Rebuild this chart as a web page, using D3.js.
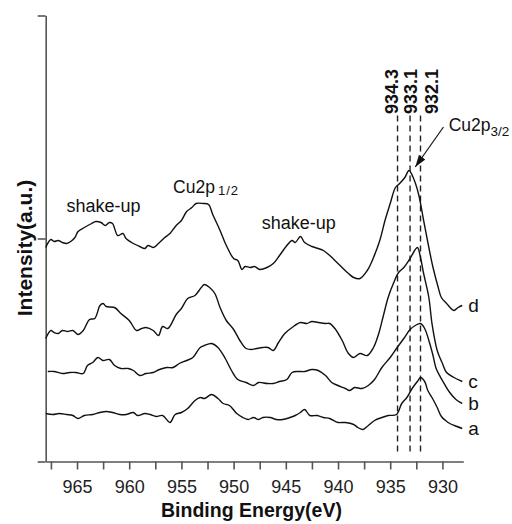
<!DOCTYPE html>
<html>
<head>
<meta charset="utf-8">
<script src="https://cdn.jsdelivr.net/npm/d3@7"></script>
<style>
  body { margin: 0; background: #fff; }
  svg { display: block; font-family: "Liberation Sans", Arial, Helvetica, sans-serif; }
</style>
</head>
<body>
<svg id="chart" width="512" height="524"></svg>
<script>
// Cu2p XPS spectra, [binding energy (eV), intensity (a.u.)]
const spectrumA = [[968.0,48],[967.3,47],[966.7,48],[966.0,47],[965.4,46],[964.9,43],[964.3,46],[963.5,47],[962.8,49],[962.2,50],[961.6,49],[960.9,47],[960.3,47],[959.6,49],[959.2,46],[958.5,48],[958.0,47],[957.4,45],[956.8,46],[956.1,39],[955.6,47],[955.0,49],[954.4,53],[953.7,61],[953.2,64],[952.8,63],[952.1,67],[951.5,63],[951.0,58],[950.4,56],[949.7,48],[949.1,44],[948.6,42],[948.1,44],[947.6,42],[947.2,44],[946.5,44],[945.9,42],[945.3,42],[944.6,44],[944.1,46],[943.6,49],[943.2,52],[942.7,46],[942.0,46],[941.4,44],[940.8,43],[940.0,39],[939.3,39],[938.5,37],[938.1,34],[937.6,32],[937.1,36],[936.5,41],[935.8,44],[935.2,46],[934.4,47],[933.9,58],[933.4,64],[932.9,73],[932.4,80],[932.1,84],[931.7,80],[931.4,71],[931.0,64],[930.5,54],[930.1,45],[929.7,41],[929.3,38],[928.6,35],[928.1,33]];

const spectrumB = [[967.8,90],[967.2,90],[966.4,88],[965.7,89],[965.1,89],[964.4,88],[964.0,96],[963.5,99],[963.0,104],[962.5,101],[961.9,102],[961.4,96],[960.8,93],[960.1,93],[959.6,91],[959.0,86],[958.4,88],[957.7,89],[957.1,92],[956.4,94],[955.8,94],[955.2,98],[954.5,101],[953.9,104],[953.2,114],[952.8,116],[952.1,118],[951.5,114],[950.8,103],[950.2,91],[949.6,82],[948.8,79],[948.1,76],[947.6,79],[946.8,78],[946.2,78],[945.6,80],[944.9,82],[944.4,89],[943.8,90],[943.2,90],[942.5,92],[941.9,91],[941.2,86],[940.6,79],[940.0,76],[939.3,73],[938.9,71],[938.4,74],[937.7,73],[937.1,76],[936.5,82],[935.8,94],[935.0,104],[934.4,113],[933.7,123],[933.1,132],[932.6,136],[932.1,138],[931.7,133],[931.3,121],[930.9,106],[930.6,93],[930.0,81],[929.3,69],[928.7,62],[928.1,58]];

const spectrumC = [[968.0,123],[967.5,131],[967.2,129],[966.8,128],[966.4,131],[965.9,130],[965.4,131],[964.9,127],[964.4,131],[963.8,142],[963.3,143],[962.8,156],[962.5,158],[962.2,155],[961.4,154],[960.8,148],[960.0,141],[959.3,131],[958.8,133],[958.4,134],[957.7,131],[957.2,126],[956.8,135],[956.3,133],[955.5,147],[955.0,153],[954.4,163],[953.7,166],[953.1,174],[952.8,177],[952.3,174],[951.8,168],[951.3,154],[950.7,141],[950.0,132],[949.4,121],[948.8,113],[948.3,112],[947.8,113],[947.2,114],[946.7,114],[946.2,111],[945.7,119],[945.1,128],[944.4,134],[943.6,139],[943.0,138],[942.5,140],[941.9,139],[941.2,138],[940.8,138],[940.3,133],[939.6,121],[939.0,108],[938.5,104],[937.9,108],[937.2,106],[936.6,114],[936.1,128],[935.7,144],[935.2,164],[934.7,178],[934.2,189],[933.7,194],[933.1,203],[932.4,214],[932.1,204],[931.8,188],[931.3,164],[931.0,138],[930.5,111],[930.0,98],[929.6,89],[928.9,84],[928.1,80]];

const spectrumD = [[968.0,214],[967.5,222],[967.2,220],[966.8,221],[966.4,219],[966.0,218],[965.6,220],[965.2,224],[964.9,230],[964.3,234],[963.6,238],[963.2,240],[962.7,239],[962.3,236],[961.9,239],[961.6,238],[961.1,226],[960.6,228],[960.3,223],[959.6,218],[959.0,215],[958.5,213],[958.2,216],[957.7,214],[957.2,218],[956.6,224],[956.1,228],[955.5,236],[955.0,241],[954.5,250],[954.0,254],[953.6,258],[952.9,258],[952.4,257],[952.0,247],[951.3,231],[950.7,216],[950.0,203],[949.6,201],[949.2,192],[948.9,195],[948.4,194],[948.0,195],[947.5,192],[946.8,194],[946.2,198],[945.6,206],[944.9,216],[944.4,221],[944.1,219],[943.6,225],[943.2,219],[942.5,215],[941.9,213],[941.4,211],[940.8,206],[939.8,196],[939.0,188],[938.5,184],[937.9,183],[937.2,191],[936.6,204],[936.0,221],[935.5,241],[935.0,258],[934.5,274],[934.1,278],[933.6,284],[933.2,291],[932.8,284],[932.3,268],[931.8,241],[931.3,214],[930.9,194],[930.4,174],[930.1,164],[929.6,158],[928.9,151],[928.5,154],[928.1,156]];

const seriesNames = ["a", "b", "c", "d"];
const peakLines = [934.3, 933.1, 932.1];
const majorTicks = [965, 960, 955, 950, 945, 940, 935, 930];
const minorTicks = [967.5, 962.5, 957.5, 952.5, 947.5, 942.5, 937.5, 932.5];
const yTicks = [0, 223, 446];

const svg = d3.select("#chart");
const font = "'Liberation Sans', Arial, Helvetica, sans-serif";

const x = d3.scaleLinear().domain([968, 928]).range([45.7, 463.3]);
const y = d3.scaleLinear().domain([0, 446]).range([461.5, 15.5]);

// axes
const xAxis = svg.append("g")
  .attr("transform", `translate(0,${y(0)})`)
  .call(d3.axisBottom(x).tickValues(majorTicks).tickSize(8).tickSizeOuter(0).tickPadding(10.5).tickFormat(d3.format("d")));
svg.append("g")
  .attr("transform", `translate(0,${y(0)})`)
  .call(d3.axisBottom(x).tickValues(minorTicks).tickSize(8).tickSizeOuter(0).tickFormat(""))
  .call((g) => g.select(".domain").remove());
const yAxis = svg.append("g")
  .attr("transform", `translate(${x(968)},0)`)
  .call(d3.axisLeft(y).tickValues(yTicks).tickSize(8).tickSizeOuter(0).tickFormat(""));

svg.selectAll(".domain, .tick line")
  .attr("stroke", "#555")
  .attr("stroke-width", 1.6);
xAxis.selectAll(".tick text")
  .attr("font-family", font)
  .attr("font-size", 18)
  .attr("fill", "#222");

// axis titles
svg.append("text")
  .attr("x", 251.5).attr("y", 516.5)
  .attr("text-anchor", "middle")
  .attr("font-family", font).attr("font-size", 19.5).attr("font-weight", "bold")
  .attr("fill", "#111")
  .text("Binding Energy(eV)");
svg.append("text")
  .attr("transform", "translate(32,248) rotate(-90)")
  .attr("text-anchor", "middle")
  .attr("font-family", font).attr("font-size", 21).attr("font-weight", "bold")
  .attr("fill", "#111")
  .text("Intensity(a.u.)");

// dashed reference lines
svg.append("g")
  .selectAll("line")
  .data(peakLines)
  .join("line")
  .attr("x1", (d) => x(d)).attr("x2", (d) => x(d))
  .attr("y1", y(346)).attr("y2", y(9))
  .attr("stroke", "#222")
  .attr("stroke-width", 1.4)
  .attr("stroke-dasharray", "6,4");

const labelShift = [-6, 0, 11];
svg.append("g")
  .selectAll("text")
  .data(peakLines)
  .join("text")
  .attr("transform", (d, i) => `translate(${x(d) + labelShift[i]},${y(347.5)}) rotate(-90)`)
  .attr("dy", "0.36em")
  .attr("font-family", font).attr("font-size", 18).attr("font-weight", "bold")
  .attr("fill", "#111")
  .text((d) => d.toFixed(1));

// spectra
const line = d3.line()
  .x((d) => x(d[0]))
  .y((d) => y(d[1]))
  .curve(d3.curveCatmullRom.alpha(0.5));

const spectra = [spectrumA, spectrumB, spectrumC, spectrumD];
svg.append("g")
  .selectAll("path")
  .data(spectra)
  .join("path")
  .attr("d", line)
  .attr("fill", "none")
  .attr("stroke", "#111")
  .attr("stroke-width", 1.4)
  .attr("stroke-linejoin", "round");

svg.append("g")
  .selectAll("text")
  .data(spectra)
  .join("text")
  .attr("x", (d) => x(d[d.length - 1][0]) + 6)
  .attr("y", (d) => y(d[d.length - 1][1]) + 6.5)
  .attr("font-family", font).attr("font-size", 19)
  .attr("fill", "#111")
  .text((d, i) => seriesNames[i]);

// annotations
const shakeUp = [[966.0, 249.5], [947.3, 232.5]];
svg.append("g")
  .selectAll("text")
  .data(shakeUp)
  .join("text")
  .attr("x", (d) => x(d[0]))
  .attr("y", (d) => y(d[1]))
  .attr("font-family", font).attr("font-size", 18)
  .attr("fill", "#111")
  .text("shake-up");

const cuHalf = svg.append("text")
  .attr("x", x(955.8)).attr("y", y(268.5))
  .attr("font-family", font).attr("font-size", 17.5)
  .attr("fill", "#111");
cuHalf.append("tspan").text("Cu2p");
cuHalf.append("tspan").attr("dx", 3).attr("dy", 2).attr("font-size", 13).attr("letter-spacing", 1).text("1/2");

const cuThree = svg.append("text")
  .attr("x", x(929.4)).attr("y", y(330.5))
  .attr("font-family", font).attr("font-size", 17.5)
  .attr("fill", "#111");
cuThree.append("tspan").text("Cu2p");
cuThree.append("tspan").attr("dy", 5).attr("font-size", 13.5).text("3/2");

// arrow to the Cu2p3/2 peak
svg.append("defs")
  .append("marker")
  .attr("id", "arrowhead")
  .attr("viewBox", "0 0 12 8")
  .attr("refX", 12).attr("refY", 4)
  .attr("markerWidth", 12).attr("markerHeight", 8)
  .attr("markerUnits", "userSpaceOnUse")
  .attr("orient", "auto")
  .append("path")
  .attr("d", "M0,0L12,4L0,8Z")
  .attr("fill", "#111");

svg.append("line")
  .attr("x1", x(929.9)).attr("y1", y(334.5))
  .attr("x2", x(932.6)).attr("y2", y(294.5))
  .attr("stroke", "#111")
  .attr("stroke-width", 1.2)
  .attr("marker-end", "url(#arrowhead)");
</script>
</body>
</html>
